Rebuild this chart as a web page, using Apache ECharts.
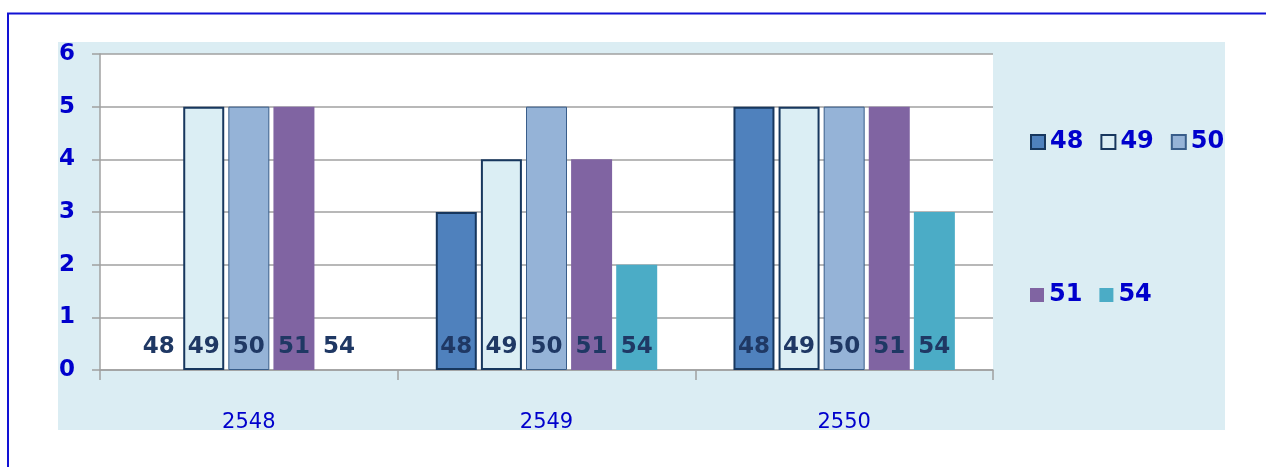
<!DOCTYPE html>
<html>
<head>
<meta charset="utf-8">
<script src="https://cdn.jsdelivr.net/npm/echarts@6/dist/echarts.min.js"></script>
<style>
html,body{margin:0;padding:0;background:#fff;}
#chart{width:1266px;height:467px;}
</style>
</head>
<body>
<div id="chart"></div>
<script>
const categories = ['2548', '2549', '2550'];
const seriesNames = ['48', '49', '50', '51', '54'];
const s48 = [0, 3, 5];
const s49 = [5, 4, 5];
const s50 = [5, 5, 5];
const s51 = [5, 4, 5];
const s54 = [0, 2, 3];
const seriesValues = [s48, s49, s50, s51, s54];

const styles = [
  {color: '#4F81BD', borderColor: '#17375E', borderWidth: 2},
  {color: '#DBEEF4', borderColor: '#17375E', borderWidth: 2},
  {color: '#95B3D7', borderColor: '#385D8A', borderWidth: 1},
  {color: '#8064A2', borderColor: '#8064A2', borderWidth: 0},
  {color: '#4BACC6', borderColor: '#4BACC6', borderWidth: 0}
];

const FONT = 'DejaVu Sans';
const BLUE = '#0000CC';

const chart = echarts.init(document.getElementById('chart'), null, {renderer: 'canvas'});
const option = {
  animation: false,
  backgroundColor: '#ffffff',
  graphic: [
    {type: 'rect', z: -10, shape: {x: 58, y: 42, width: 1167, height: 388}, style: {fill: '#DBEDF3'}},
    {type: 'rect', z: 100, shape: {x: 58, y: 430, width: 1167, height: 37}, style: {fill: '#ffffff'}},
    {type: 'rect', z: 101, shape: {x: 8, y: 13.5, width: 1300, height: 500}, style: {fill: 'none', stroke: '#1212D4', lineWidth: 2}}
  ],
  grid: {left: 100, right: 273, top: 54, bottom: 97, show: true, backgroundColor: '#ffffff', borderWidth: 0},
  legend: [
    {
      data: seriesNames.slice(0, 3), left: 1030, top: 130, padding: 0, orient: 'horizontal',
      itemWidth: 14, itemHeight: 14, itemGap: 17, icon: 'rect',
      textStyle: {color: BLUE, fontFamily: FONT, fontWeight: 'bold', fontSize: 24}
    },
    {
      data: seriesNames.slice(3), left: 1030, top: 283, padding: 0, orient: 'horizontal',
      itemWidth: 14, itemHeight: 14, itemGap: 17, icon: 'rect',
      textStyle: {color: BLUE, fontFamily: FONT, fontWeight: 'bold', fontSize: 24}
    }
  ],
  xAxis: {
    type: 'category',
    data: categories,
    boundaryGap: true,
    axisLine: {lineStyle: {color: '#A0A0A0', width: 1.5}},
    axisTick: {show: true, alignWithLabel: false, length: 10, lineStyle: {color: '#A0A0A0', width: 1.5}},
    axisLabel: {color: BLUE, fontFamily: FONT, fontSize: 21, margin: 42}
  },
  yAxis: {
    type: 'value',
    min: 0, max: 6, interval: 1,
    axisLine: {show: true, lineStyle: {color: '#A0A0A0', width: 1.5}},
    axisTick: {show: true, length: 8, lineStyle: {color: '#A0A0A0', width: 1.5}},
    splitLine: {show: true, lineStyle: {color: '#A0A0A0', width: 1.5}},
    axisLabel: {color: BLUE, fontFamily: FONT, fontWeight: 'bold', fontSize: 23, margin: 25}
  },
  series: seriesNames.map((name, i) => ({
    name: name,
    type: 'bar',
    data: seriesValues[i].map(v => v === 0 ? {value: v, itemStyle: {borderWidth: 0, color: 'rgba(0,0,0,0)', borderColor: 'rgba(0,0,0,0)'}} : v),
    barWidth: 41,
    barGap: '10%',
    itemStyle: styles[i],
    label: {
      show: true,
      position: 'insideBottom',
      distance: 11,
      formatter: '{a}',
      color: '#1F3864',
      fontFamily: FONT,
      fontWeight: 'bold',
      fontSize: 23
    }
  }))
};
chart.setOption(option);
</script>
</body>
</html>
